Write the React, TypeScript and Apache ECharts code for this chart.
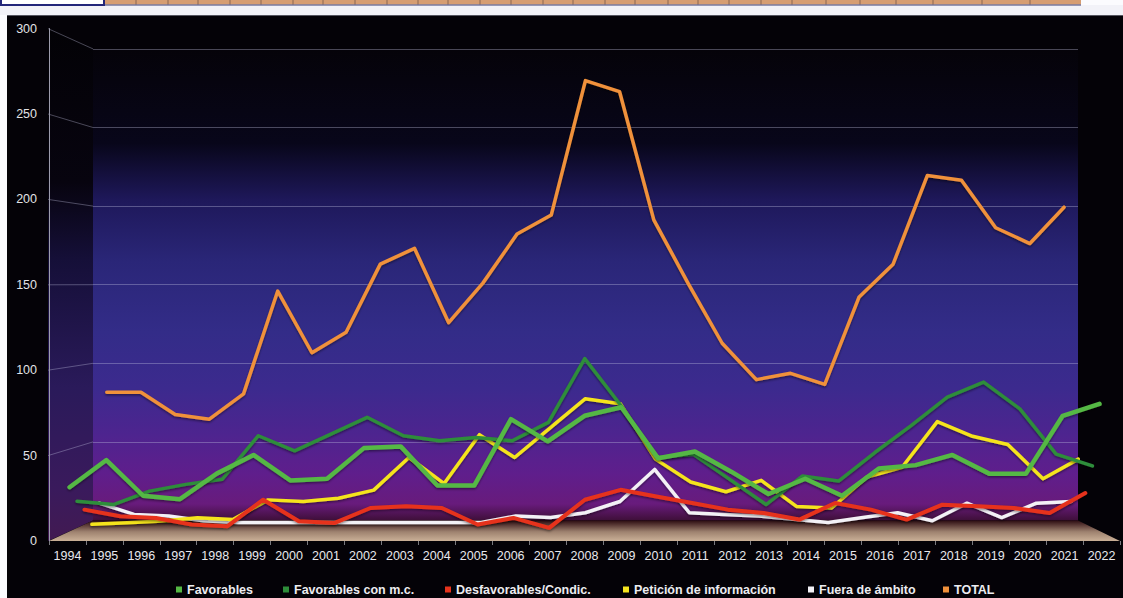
import React, { useEffect, useRef } from "react";
import * as echarts from "echarts";

// ---- data -------------------------------------------------------------
const years = [
  "1994", "1995", "1996", "1997", "1998", "1999", "2000", "2001", "2002", "2003",
  "2004", "2005", "2006", "2007", "2008", "2009", "2010", "2011", "2012", "2013",
  "2014", "2015", "2016", "2017", "2018", "2019", "2020", "2021", "2022",
];
const favorables = [31, 47, 26, 24, 39, 50, 35, 36, 54, 55, 32, 32, 71, 58, 73, 78, 48, 52, 40, 27, 36, 26, 42, 44, 50, 39, 39, 73, 80];
const favorablesConMc = [21, 19, 27, 31, 34, 60, 51, 61, 71, 60, 57, 59, 57, 68, 106, 78, 47, 49, 34, 19, 36, 33, 50, 66, 83, 92, 76, 49, 42];
const desfavorables = [14, 10, 9, 5, 4, 20, 7, 6, 15, 16, 15, 5, 9, 3, 20, 26, 22, 18, 14, 12, 8, 18, 14, 8, 17, 16, 15, 12, 24];
const peticionInfo = [3, 4, 5, 7, 6, 18, 17, 19, 24, 44, 28, 58, 44, 62, 80, 77, 43, 29, 23, 30, 14, 13, 32, 38, 66, 57, 52, 31, 43];
const fueraAmbito = [14, 7, 6, 3, 2, 2, 2, 2, 2, 2, 2, 2, 6, 5, 8, 15, 35, 8, 7, 6, 4, 2, 5, 8, 3, 14, 5, 14, 15];
const total = [82, 82, 68, 65, 81, 146, 107, 120, 163, 173, 126, 151, 182, 194, 279, 272, 191, 151, 113, 90, 94, 87, 142, 163, 219, 216, 186, 176, 199];
const yTicks = [0, 50, 100, 150, 200, 250, 300];

// ---- layout of the pseudo-3D box --------------------------------------
const W = 1123;
const H = 598;
const Y_MAX = 300;
// front edge of the floor and the back wall, in px
const FRONT = { left: 49, right: 1120, base: 541, top: 28.6 };
const BACK = { left: 93, right: 1078, base: 520.5, top: 48.9 };

const lerp = (a: number, b: number, t: number) => a + (b - a) * t;
const planeAt = (t: number) => ({
  left: lerp(FRONT.left, BACK.left, t),
  right: lerp(FRONT.right, BACK.right, t),
  base: lerp(FRONT.base, BACK.base, t),
  top: lerp(FRONT.top, BACK.top, t),
});
const gridAt = (t: number) => {
  const p = planeAt(t);
  return { left: p.left, right: W - p.right, top: p.top, bottom: H - p.base };
};
const yOn = (p: { base: number; top: number }, v: number) => p.base - (v / Y_MAX) * (p.base - p.top);

// each series sits on its own depth row, front to back
const depthOf = (i: number) => 0.05 + 0.175 * i;

const seriesDefs = [
  { name: "Favorables", data: favorables, color: "#55b844", width: 4.5 },
  { name: "Favorables con m.c.", data: favorablesConMc, color: "#2e8d3a", width: 3.5 },
  { name: "Desfavorables/Condic.", data: desfavorables, color: "#e6331c", width: 4 },
  { name: "Petición de información", data: peticionInfo, color: "#f5e41f", width: 3.5 },
  { name: "Fuera de ámbito", data: fueraAmbito, color: "#f3f1f6", width: 3.5 },
  { name: "TOTAL", data: total, color: "#f0913b", width: 3.5 },
];
const legendLefts = [176, 283, 445, 623, 808, 943];
const stripSeparators = [136, 168, 198, 230, 261, 293, 323, 355, 387, 418, 448, 480, 511, 543, 573, 605, 635, 668, 698, 729, 761, 792, 826, 860, 896, 933, 982, 1030];

const FONT = "'Liberation Sans', Arial, sans-serif";
const GRID_COLOR = "rgba(195,195,225,0.36)";

function buildOption(): echarts.EChartsOption {
  const back = planeAt(1);

  const graphic: any[] = [
    // page and the sheet strip above the chart
    { type: "rect", z: -30, silent: true, shape: { x: 0, y: 0, width: W, height: H }, style: { fill: "#fbfbfe" } },
    { type: "rect", z: -29, silent: true, shape: { x: 0, y: 5, width: W, height: 10 }, style: { fill: "#f2f2f8" } },
    { type: "rect", z: -28, silent: true, shape: { x: 104, y: 0, width: 977, height: 4.5 }, style: { fill: "#d69d72" } },
    ...stripSeparators.map((x) => ({
      type: "line", z: -27, silent: true,
      shape: { x1: x, y1: 0, x2: x, y2: 4.5 },
      style: { stroke: "#8a6652", lineWidth: 1 },
    })),
    { type: "line", z: -27, silent: true, shape: { x1: 0, y1: 5, x2: 1081, y2: 5 }, style: { stroke: "#3b3c72", lineWidth: 1 } },
    { type: "rect", z: -27, silent: true, shape: { x: 1, y: -1, width: 103, height: 6 }, style: { fill: "#ffffff", stroke: "#23267a", lineWidth: 2 } },
    // chart area
    { type: "rect", z: -26, silent: true, shape: { x: 7, y: 15, width: W - 7, height: H - 15 }, style: { fill: "#040207" } },
    { type: "line", z: -25, silent: true, shape: { x1: 7, y1: 15.5, x2: W, y2: 15.5 }, style: { stroke: "#55555f", lineWidth: 1 } },
    // back wall
    {
      type: "rect", z: -20, silent: true,
      shape: { x: BACK.left, y: BACK.top, width: BACK.right - BACK.left, height: BACK.base - BACK.top },
      style: {
        fill: new echarts.graphic.LinearGradient(0, 0, 0, 1, [
          { offset: 0, color: "#050309" },
          { offset: 0.2, color: "#08061a" },
          { offset: 0.32, color: "#1e185a" },
          { offset: 0.45, color: "#2a2678" },
          { offset: 0.6, color: "#332c88" },
          { offset: 0.72, color: "#3c2a8e" },
          { offset: 0.82, color: "#4e248f" },
          { offset: 0.9, color: "#5f1e8c" },
          { offset: 0.965, color: "#681b7c" },
          { offset: 1, color: "#3e0f38" },
        ]),
      },
    },
    // left side wall
    {
      type: "polygon", z: -19, silent: true,
      shape: { points: [[FRONT.left - 1, FRONT.top], [BACK.left, BACK.top], [BACK.left, BACK.base], [FRONT.left - 1, FRONT.base]] },
      style: {
        fill: new echarts.graphic.LinearGradient(0, 0, 0, 1, [
          { offset: 0, color: "#030206" },
          { offset: 0.3, color: "#07040f" },
          { offset: 0.45, color: "#150f38" },
          { offset: 0.7, color: "#2a1a5a" },
          { offset: 0.9, color: "#3a1a5c" },
          { offset: 1, color: "#421a52" },
        ]),
      },
    },
    // floor
    {
      type: "polygon", z: -18, silent: true,
      shape: { points: [[FRONT.left, FRONT.base], [FRONT.right, FRONT.base], [BACK.right, BACK.base], [BACK.left, BACK.base]] },
      style: {
        fill: new echarts.graphic.LinearGradient(0, 0, 0, 1, [
          { offset: 0, color: "#2c0d12" },
          { offset: 0.22, color: "#5a3a36" },
          { offset: 0.55, color: "#9e826f" },
          { offset: 1, color: "#cab097" },
        ]),
      },
    },
    // gridlines running across the side wall
    ...yTicks.filter((v) => v > 0).map((v) => ({
      type: "line", z: -17, silent: true,
      shape: { x1: FRONT.left - 1, y1: yOn(FRONT, v), x2: BACK.left, y2: yOn(back, v) },
      style: { stroke: GRID_COLOR, lineWidth: 1 },
    })),
  ];

  const grids = [gridAt(0), gridAt(1), ...seriesDefs.map((_, i) => gridAt(depthOf(i)))];

  const xAxes: any[] = [
    {
      type: "category", gridIndex: 0, data: years, boundaryGap: true,
      axisLine: { show: false },
      axisTick: { show: true, length: 4, lineStyle: { color: "#7a7a80" } },
      axisLabel: { interval: 0, color: "#e8e8ec", fontSize: 12.5, fontFamily: FONT, margin: 8 },
      splitLine: { show: false },
    },
    { type: "category", gridIndex: 1, data: years, show: false },
    ...seriesDefs.map((_, i) => ({ type: "category", gridIndex: i + 2, data: years, boundaryGap: true, show: false })),
  ];

  const yAxes: any[] = [
    {
      type: "value", gridIndex: 0, min: 0, max: Y_MAX, interval: 50,
      axisLine: { show: true, lineStyle: { color: "#9c9cab", width: 1 } },
      axisTick: { show: false },
      axisLabel: { color: "#e2e2e6", fontSize: 12.5, fontFamily: FONT, margin: 12 },
      splitLine: { show: false },
    },
    {
      type: "value", gridIndex: 1, min: 0, max: Y_MAX, interval: 50,
      axisLine: { show: false }, axisTick: { show: false }, axisLabel: { show: false },
      splitLine: { show: true, showMinLine: false, lineStyle: { color: GRID_COLOR, width: 1 } },
    },
    ...seriesDefs.map((_, i) => ({ type: "value", gridIndex: i + 2, min: 0, max: Y_MAX, show: false, splitLine: { show: false } })),
  ];

  // back rows first so the front rows are painted over them
  const series: any[] = seriesDefs
    .map((s, i) => ({
      type: "line",
      name: s.name,
      xAxisIndex: i + 2,
      yAxisIndex: i + 2,
      data: s.data,
      symbol: "none",
      z: 3 + (seriesDefs.length - i),
      color: s.color,
      itemStyle: { color: s.color },
      lineStyle: {
        color: s.color, width: s.width, cap: "round", join: "round",
        shadowColor: "rgba(0,0,0,0.45)", shadowBlur: 2, shadowOffsetY: 1.5,
      },
      emphasis: { disabled: true },
    }))
    .reverse();

  const legend: any[] = seriesDefs.map((s, i) => ({
    data: [{ name: s.name, icon: "rect" }],
    left: legendLefts[i],
    top: 583,
    padding: 0,
    itemWidth: 6,
    itemHeight: 6,
    selectedMode: false,
    textStyle: { color: "#ececf0", fontWeight: "bold", fontSize: 12.5, fontFamily: FONT },
  }));

  return {
    animation: false,
    backgroundColor: "transparent",
    graphic: { elements: graphic },
    grid: grids,
    xAxis: xAxes,
    yAxis: yAxes,
    legend,
    series,
  } as any;
}

export default function App() {
  const ref = useRef<HTMLDivElement>(null);
  useEffect(() => {
    if (!ref.current) return;
    const chart = echarts.init(ref.current, undefined, { renderer: "svg", width: W, height: H });
    chart.setOption(buildOption());
    return () => chart.dispose();
  }, []);
  return (
    <div
      ref={ref}
      style={{ position: "absolute", left: 0, top: 0, width: W, height: H }}
    />
  );
}
